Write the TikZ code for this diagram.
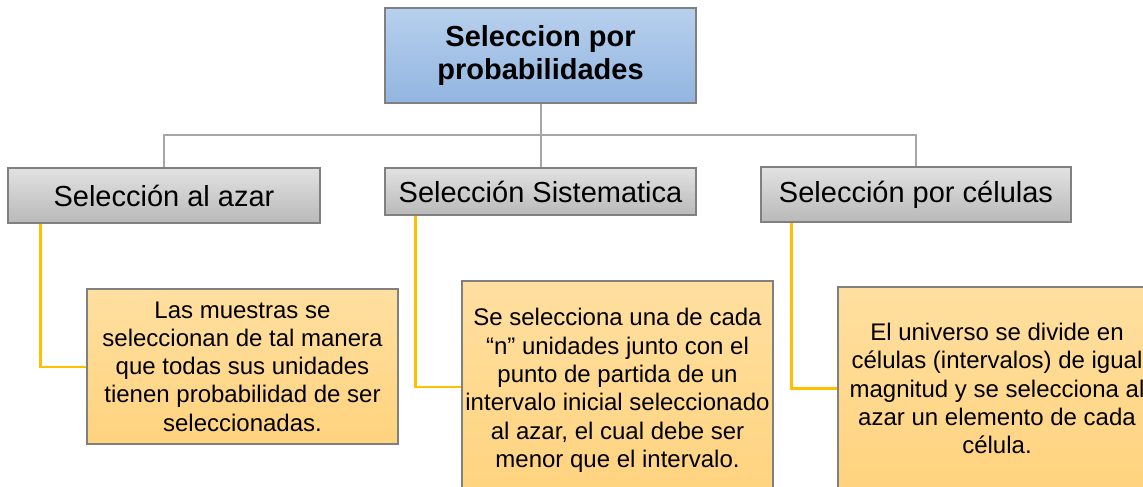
\documentclass[tikz,border=0pt]{standalone}
\usepackage{fontspec}
\setmainfont{Liberation Sans}
\usetikzlibrary{calc}
\definecolor{bluetop}{HTML}{B7D0ED}
\definecolor{bluebot}{HTML}{92B5E0}
\definecolor{graytop}{HTML}{E2E2E2}
\definecolor{graybot}{HTML}{B9B9B9}
\definecolor{leaftop}{HTML}{FFDFA0}
\definecolor{leafbot}{HTML}{FFD37E}
\definecolor{edgegray}{HTML}{808080}
\definecolor{linegray}{HTML}{A6A6A6}
\definecolor{lineyellow}{HTML}{FFC000}
\tikzset{
  rootbox/.style={draw=edgegray, line width=1.2pt, top color=bluetop, bottom color=bluebot,
    minimum width=311pt, minimum height=95pt, align=center, inner sep=0pt,
    font=\fontsize{29}{33}\selectfont\bfseries},
  catbox/.style={draw=edgegray, line width=1.2pt, top color=graytop, bottom color=graybot,
    minimum width=311pt, inner sep=0pt, font=\fontsize{29}{33}\selectfont},
  leafbox/.style={draw=edgegray, line width=1.2pt, top color=leaftop, bottom color=leafbot,
    minimum width=311pt, align=center, inner sep=0pt, font=\fontsize{24}{28.3}\selectfont},
  treeline/.style={draw=linegray, line width=2pt},
  yline/.style={draw=lineyellow, line width=2.2pt}
}
\begin{document}
\begin{tikzpicture}[x=1pt,y=-1pt]
\clip (0,0) rectangle (1143,487);
\fill[white] (0,0) rectangle (1143,487);

\node[rootbox] (root) at (540.5,55.5) {Seleccion por\\probabilidades};

\node[catbox, minimum width=312pt, minimum height=55pt] (c1) at (164,195.5) {Selección al azar};
\node[catbox, minimum height=47pt] (c2) at (540.5,191.5) {Selección Sistematica};
\node[catbox, minimum width=310pt, minimum height=55pt] (c3) at (916,194.5) {Selección por células};

\node[leafbox, minimum height=155pt] (l1) at (242.5,366.5)
  {Las muestras se\\seleccionan de tal manera\\que todas sus unidades\\tienen probabilidad de ser\\seleccionadas.};
\node[leafbox, minimum height=219pt] (l2) at (617.5,390.5)
  {Se selecciona una de cada\\“n” unidades junto con el\\punto de partida de un\\intervalo inicial seleccionado\\al azar, el cual debe ser\\menor que el intervalo.};
\node[leafbox, minimum width=318pt, minimum height=203pt] (l3) at (997,388.5)
  {El universo se divide en\\células (intervalos) de igual\\magnitud y se selecciona al\\azar un elemento de cada\\célula.};

\coordinate (bus) at (540.5,135);
\begin{scope}[on background layer/.try]
\end{scope}
\draw[treeline] (root.south) -- (c2.north);
\draw[treeline] (c1.north) |- (bus) -| (c3.north);

\draw[yline] ($(c1.south west)+(33,0)$) |- ($(l1.west)+(0,0.5)$);
\draw[yline] ($(c2.south west)+(31,0)$) |- ($(l2.west)+(0,-3.5)$);
\draw[yline] ($(c3.south west)+(31,0)$) |- (l3.west);

% redraw boxes' borders over connectors
\node[rootbox] at (root) {Seleccion por\\probabilidades};
\node[catbox, minimum width=312pt, minimum height=55pt] at (c1) {Selección al azar};
\node[catbox, minimum height=47pt] at (c2) {Selección Sistematica};
\node[catbox, minimum width=310pt, minimum height=55pt] at (c3) {Selección por células};
\end{tikzpicture}
\end{document}
